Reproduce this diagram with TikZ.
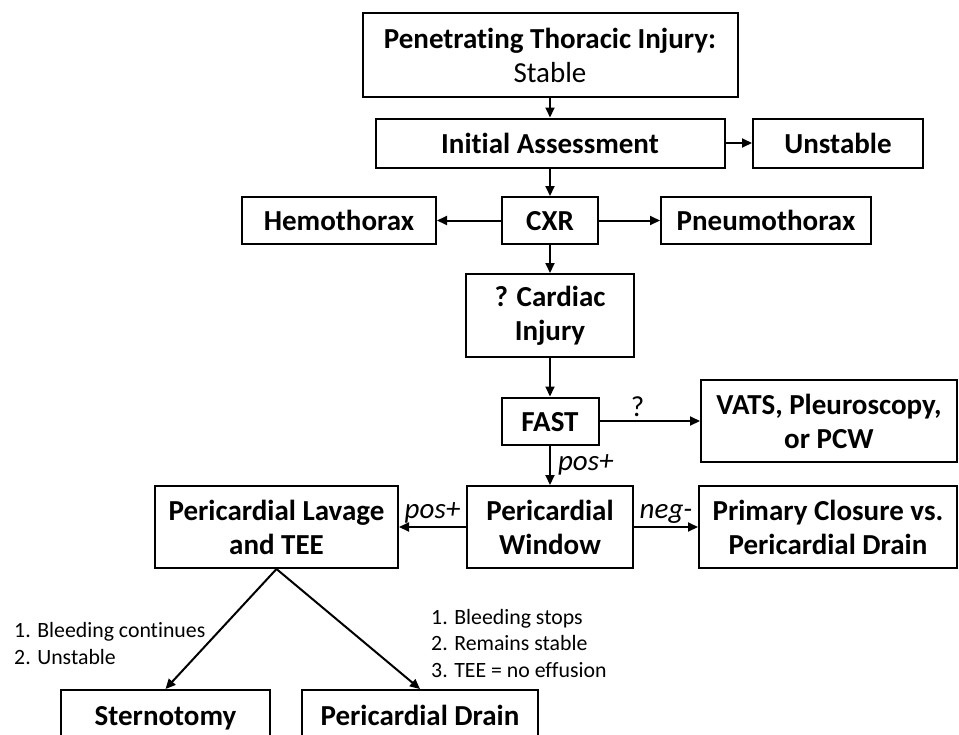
\documentclass[tikz,border=0pt]{standalone}
\usepackage{fontspec}
\setmainfont{Carlito}[Ligatures=NoCommon]
\usetikzlibrary{arrows.meta, positioning}

\begin{document}
\begin{tikzpicture}[x=1pt, y=-1pt,
  box/.style={draw, line width=2pt, inner sep=0pt, font=\fontsize{29}{34}\selectfont\bfseries},
  oneline/.style={text height=25pt, text depth=5pt},
  twoline/.style={align=center},
  arr/.style={-{Triangle[length=10pt, width=9pt]}, line width=2pt},
  cond/.style={inner sep=3pt, font=\fontsize{29}{34}\selectfont\itshape},
  note/.style={align=left, inner sep=0pt, font=\fontsize{21.8}{26.5}\selectfont}]
  \clip (0,0) rectangle (959,734);

  % Entry and first assessment
  \node[box, twoline, minimum width=375pt, minimum height=84pt] (injury) at (550,55) {Penetrating Thoracic Injury:\\ \mdseries Stable};
  \node[box, oneline, minimum width=349pt, minimum height=49pt] (init) at (550,143) {Initial Assessment};
  \node[box, oneline, minimum width=170pt, minimum height=49pt] (unstable) at (838,143) {Unstable};

  % Chest x-ray row
  \node[box, oneline, minimum width=194pt, minimum height=47pt] (hemo) at (339,220.5) {Hemothorax};
  \node[box, oneline, minimum width=96pt, minimum height=47pt] (cxr) at (550,220.5) {CXR};
  \node[box, oneline, minimum width=210pt, minimum height=47pt] (pneumo) at (766,220.5) {Pneumothorax};

  % Cardiac work-up
  \node[box, twoline, minimum width=168pt, minimum height=83pt] (cardiac) at (550,315.5) {? Cardiac\\Injury};
  \node[box, oneline, minimum width=97pt, minimum height=47pt] (fast) at (550,421) {FAST};
  \node[box, twoline, minimum width=256pt, minimum height=82pt] (vats) at (829,421) {VATS, Pleuroscopy,\\or PCW};

  % Window row
  \node[box, twoline, minimum width=243pt, minimum height=82pt] (lavage) at (276.5,527) {Pericardial Lavage\\and TEE};
  \node[box, twoline, minimum width=166pt, minimum height=82pt] (window) at (550,527) {Pericardial\\Window};
  \node[box, twoline, minimum width=258pt, minimum height=82pt] (primary) at (828,527) {Primary Closure vs.\\Pericardial Drain};

  % Outcomes
  \node[box, oneline, minimum width=209pt, minimum height=50pt] (sternotomy) at (165.5,715) {Sternotomy};
  \node[box, oneline, minimum width=236pt, minimum height=50pt] (drain) at (420,715) {Pericardial Drain};

  \node[note, anchor=west] (contnote) at (14,643.5) {1. Bleeding continues\\2. Unstable};
  \node[note, anchor=west] (stopnote) at (431,643.5) {1. Bleeding stops\\2. Remains stable\\3. TEE = no effusion};

  % Connectors
  \draw[arr] (injury) -- (init);
  \draw[arr] (init) -- (unstable);
  \draw[arr] (init) -- (cxr);
  \draw[arr] (cxr) -- (hemo);
  \draw[arr] (cxr) -- (pneumo);
  \draw[arr] (cxr) -- (cardiac);
  \draw[arr] (cardiac) -- (fast);
  \draw[arr] (fast) -- node[cond, above, pos=0.38, font=\fontsize{29}{34}\selectfont\upshape] {?} (vats);
  \draw[arr] (fast) -- node[cond, right, xshift=4pt] {pos+} (window);
  \draw[arr] (window) -- node[cond, above] {pos+} (lavage);
  \draw[arr] (window) -- node[cond, above] {neg-} (primary);
  \draw[arr] (lavage.south) -- (sternotomy.north);
  \draw[arr] (lavage.south) -- (drain.north);
\end{tikzpicture}
\end{document}
